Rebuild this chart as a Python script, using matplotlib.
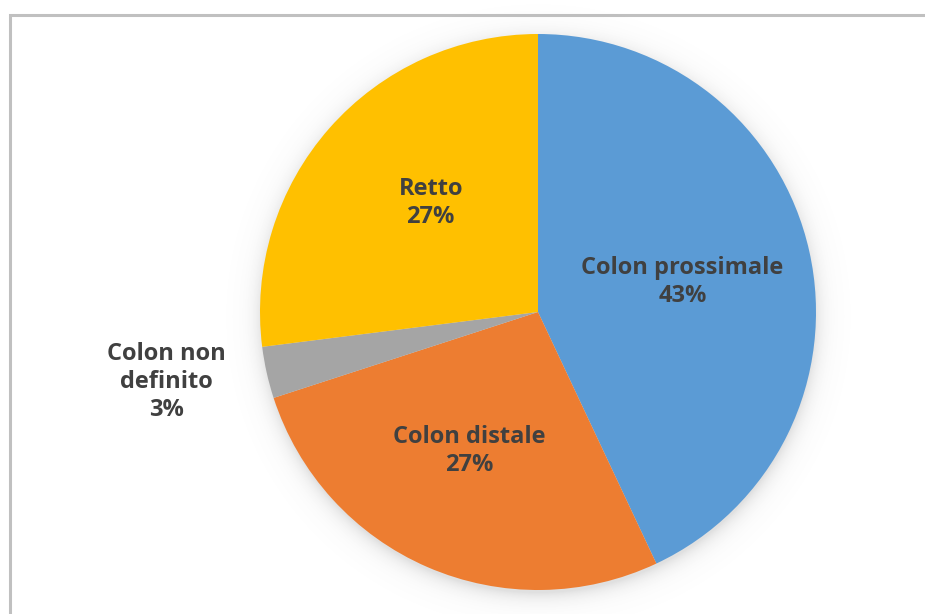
import numpy as np
import matplotlib.pyplot as plt
from matplotlib.patches import Rectangle

# Localizzazione del tumore
labels = ["Colon prossimale", "Colon distale", "Colon non\ndefinito", "Retto"]
values = [43, 27, 3, 27]
colors = ["#5B9BD5", "#ED7D31", "#A5A5A5", "#FFC000"]
label_dist = [0.53, 0.56, 1.36, 0.55]
label_rot = [-1.0, -3.0, -2.0, -4.0]   # small angular nudge for each label, degrees

W, H = 925, 614
cx, cy, R = 538, H - 312, 278

fig = plt.figure(figsize=(W / 100, H / 100), dpi=100)
ax = fig.add_axes([0, 0, 1, 1])

# chart frame (right/bottom edges run off the canvas)
ax.add_patch(Rectangle((10, -10), W + 20, H - 14 + 10 - 1, fill=False,
                       edgecolor="#c0c0c0", linewidth=2.2, zorder=0))

# soft drop shadow behind the pie
yy, xx = np.mgrid[0:H, 0:W]
d = np.hypot(xx - cx, (H - yy) - (cy - 4))
alpha = np.where(d > R - 2, 0.22 * np.exp(-np.clip(d - R + 2, 0, None) / 9.0), 0.22)
shadow = np.zeros((H, W, 4))
shadow[..., :3] = 0.45
shadow[..., 3] = alpha
ax.imshow(shadow, extent=(0, W, 0, H), origin="upper", zorder=1, interpolation="bilinear")

wedges, _ = ax.pie(values, colors=colors, startangle=90, counterclock=False,
                   center=(cx, cy), radius=R, frame=True,
                   wedgeprops=dict(linewidth=0))
for w in wedges:
    w.set_zorder(2)
ax.set_xlim(0, W)
ax.set_ylim(0, H)
ax.set_aspect("equal")
ax.axis("off")

total = sum(values)
for w, lab, v, dist, rot in zip(wedges, labels, values, label_dist, label_rot):
    mid = np.deg2rad((w.theta1 + w.theta2) / 2 + rot)
    x = cx + dist * R * np.cos(mid)
    y = cy + dist * R * np.sin(mid)
    ax.text(x, y, f"{lab}\n{round(100 * v / total)}%", ha="center", va="center",
            fontsize=17, fontweight="bold", family="Open Sans", color="#404040",
            linespacing=1.22, zorder=3)

fig.savefig("out.png", dpi=100)
